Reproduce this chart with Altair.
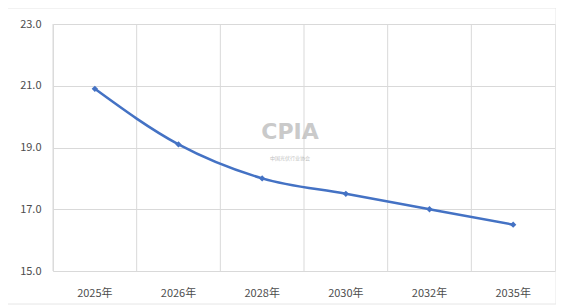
import altair as alt
import pandas as pd

years = ["2025年", "2026年", "2028年", "2030年", "2032年", "2035年"]
values = [20.9, 19.1, 18.0, 17.5, 17.0, 16.5]
y_ticks = [15.0, 17.0, 19.0, 21.0, 23.0]

df = pd.DataFrame({"year": years, "value": values})

W, H = 502, 247
FONT = "Noto Sans CJK SC"

xscale = alt.Scale(type="band", paddingInner=0, paddingOuter=0, domain=years)
yscale = alt.Scale(domain=[15, 23], nice=False, zero=False)
xaxis = alt.Axis(title=None, labelAngle=0, ticks=False, domain=False, grid=False,
                 labelFont=FONT, labelFontSize=11, labelColor="#4d4d4d", labelPadding=16)

base = alt.Chart(df)

vgrid = base.mark_rule(color="#d9d9d9", strokeWidth=1).encode(
    x=alt.X("year:N", scale=xscale, bandPosition=0, axis=xaxis, sort=years),
    y=alt.value(0),
    y2=alt.value(H),
)

line = base.mark_line(color="#4472C4", strokeWidth=2.5, interpolate="monotone").encode(
    x=alt.X("year:N", scale=xscale, bandPosition=0.5, sort=years, axis=xaxis),
    y=alt.Y("value:Q", scale=yscale,
            axis=alt.Axis(title=None, values=y_ticks, format=".1f", ticks=False, domain=False,
                          gridColor="#d9d9d9", labelFont=FONT, labelFontSize=11,
                          labelColor="#4d4d4d", labelPadding=12)),
)

pts = base.mark_point(shape="diamond", filled=True, size=40, color="#4472C4", opacity=1).encode(
    x=alt.X("year:N", scale=xscale, bandPosition=0.5, sort=years, axis=xaxis),
    y=alt.Y("value:Q", scale=yscale),
)

wm = alt.Chart(pd.DataFrame({"t": ["CPIA"]})).mark_text(
    font="DejaVu Sans", fontWeight="bold", fontSize=22, color="#bdbdbd", opacity=0.8
).encode(text="t:N", x=alt.value(237), y=alt.value(108))

wm2 = alt.Chart(pd.DataFrame({"t": ["中国光伏行业协会"]})).mark_text(
    font=FONT, fontSize=5, color="#b0b0b0", opacity=0.8
).encode(text="t:N", x=alt.value(237), y=alt.value(134))

frame = alt.Chart(pd.DataFrame({"a": [0]})).mark_rect(
    fill=None, stroke="#e6e6e6", strokeWidth=1, clip=False
).encode(x=alt.value(-46), x2=alt.value(W + 1), y=alt.value(-16), y2=alt.value(H + 33))

chart = alt.layer(vgrid, line, pts, wm, wm2, frame).properties(
    width=W, height=H,
    padding={"left": 45, "top": 16, "right": 1, "bottom": 34},
    autosize=alt.AutoSizeParams(type="none"),
).configure_view(stroke="#d9d9d9").configure(background="white")

chart.save("out.html", embed_options={"renderer": "svg", "actions": False})
